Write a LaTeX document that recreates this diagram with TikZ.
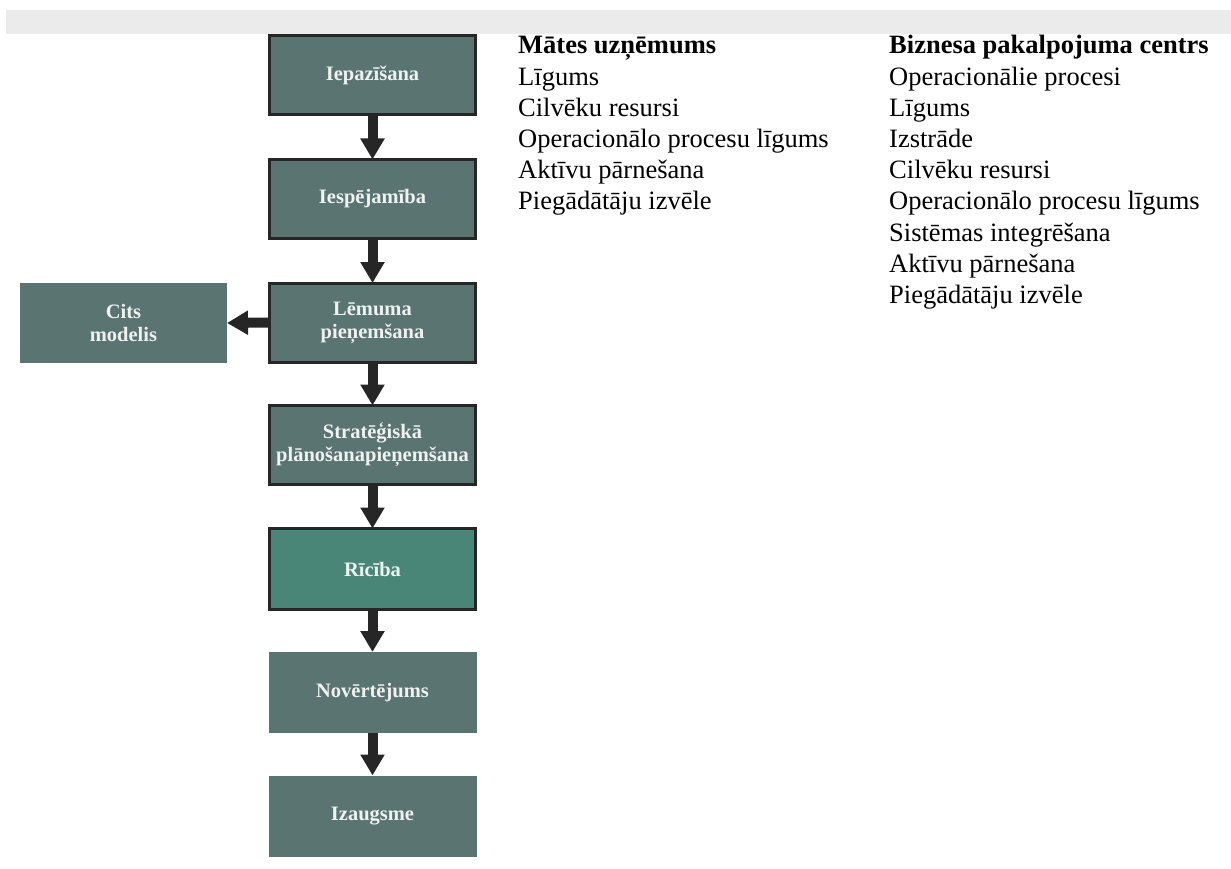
\documentclass[tikz,border=0pt]{standalone}
\usepackage{fontspec}
\setmainfont{Liberation Serif}
\usetikzlibrary{arrows.meta}
\definecolor{boxfill}{HTML}{5A7472}
\definecolor{boxteal}{HTML}{4A8678}
\definecolor{boxtext}{HTML}{EEF2F0}
\definecolor{edgecol}{HTML}{262626}
\definecolor{bandcol}{HTML}{EBEBEB}
\begin{document}
\begin{tikzpicture}[x=1pt,y=-1pt,
  stepbox/.style={fill=boxfill, text=boxtext, font=\fontsize{20.5}{23}\selectfont\bfseries,
    align=center, minimum width=208pt, minimum height=81pt, inner sep=0pt, outer sep=0pt},
  framed/.style={draw=edgecol, line width=3pt, minimum width=206pt, minimum height=79pt},
  flow/.style={draw=edgecol, line width=10pt, -{Triangle[width=23pt,length=21pt]}},
  listtext/.style={anchor=base west, inner sep=0pt, font=\fontsize{26.5}{31}\selectfont}]
\useasboundingbox (0,0) rectangle (1231,869);
\fill[bandcol] (6,10) rectangle (1231,34);

\node[stepbox, framed] (b1) at (372.5,75.5) {Iepazīšana};
\node[stepbox, framed] (b2) at (372.5,199) {Iespējamība};
\node[stepbox, framed] (b3) at (372.5,322.5) {Lēmuma\\pieņemšana};
\node[stepbox, framed] (b4) at (372.5,445) {Stratēģiskā\\plānošanapieņemšana};
\node[stepbox, framed, fill=boxteal, minimum height=81pt] (b5) at (372.5,569) {Rīcība};
\node[stepbox] (b6) at (372.5,692.5) {Novērtējums};
\node[stepbox] (b7) at (372.5,816) {Izaugsme};
\node[stepbox, minimum width=207pt, minimum height=80pt] (cits) at (123.5,323) {Cits\\modelis};

\draw[flow] (b1.south) -- (b2.north);
\draw[flow] (b2.south) -- (b3.north);
\draw[flow] (b3.south) -- (b4.north);
\draw[flow] (b4.south) -- (b5.north);
\draw[flow] (b5.south) -- (b6.north);
\draw[flow] (b6.south) -- (b7.north);
\draw[flow] (b3.west) -- (cits.east);

\node[listtext, font=\fontsize{26.5}{31}\selectfont\bfseries] (mh) at (518,54) {Mātes uzņēmums};
\foreach \t [count=\i from 1] in {Līgums, Cilvēku resursi, Operacionālo procesu līgums, Aktīvu pārnešana, Piegādātāju izvēle}
  \node[listtext] (m\i) at (518, 54+31.2*\i) {\t};

\node[listtext, font=\fontsize{26.5}{31}\selectfont\bfseries] (rh) at (889,54) {Biznesa pakalpojuma centrs};
\foreach \t [count=\i from 1] in {Operacionālie procesi, Līgums, Izstrāde, Cilvēku resursi, Operacionālo procesu līgums, Sistēmas integrēšana, Aktīvu pārnešana, Piegādātāju izvēle}
  \node[listtext] (r\i) at (889, 54+31.2*\i) {\t};
\end{tikzpicture}
\end{document}
